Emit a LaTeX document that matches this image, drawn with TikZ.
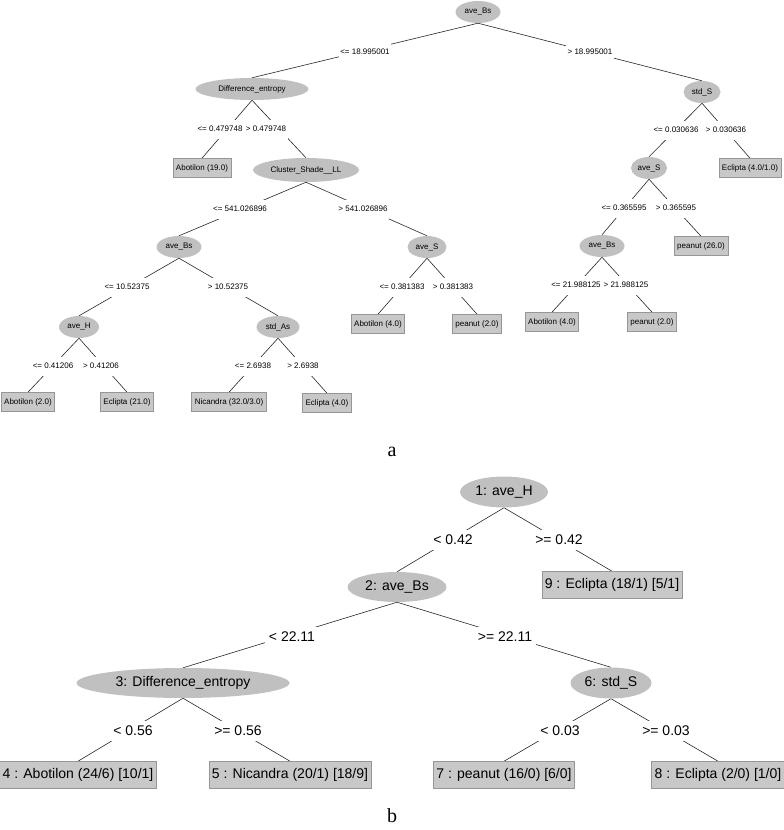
\documentclass[tikz,border=0pt]{standalone}
\usepackage{fontspec}
\setmainfont{Liberation Sans}
\newfontfamily\capfont{Liberation Serif}
\usetikzlibrary{shapes.geometric,backgrounds}
\definecolor{splitgray}{RGB}{192,192,192}
\definecolor{leafgray}{RGB}{200,200,200}
\definecolor{rimgray}{RGB}{150,150,150}
\begin{document}
\begin{tikzpicture}[x=1pt,y=-1pt,
        split/.style={ellipse,fill=splitgray,inner sep=0pt,minimum height=22pt,font=\fontsize{8}{9}\selectfont},
        leaf/.style={rectangle,fill=leafgray,draw=rimgray,line width=0.6pt,inner xsep=3pt,inner ysep=0pt,minimum height=19pt,font=\fontsize{8}{9}\selectfont},
        cond/.style={fill=white,inner xsep=1.5pt,inner ysep=0pt,minimum height=19pt,font=\fontsize{8}{9}\selectfont},
        bigsplit/.style={split,minimum height=31pt,font=\fontsize{14}{16}\selectfont},
        bigleaf/.style={leaf,minimum height=27pt,font=\fontsize{14}{16}\selectfont},
        bigcond/.style={cond,inner xsep=4pt,minimum height=20pt,font=\fontsize{14}{16}\selectfont},
        branch/.style={draw=black!85,line width=0.6pt},
        caption/.style={font=\capfont\fontsize{20}{22}\selectfont}]
        \useasboundingbox (0,0) rectangle (784,830);
        % tree a
        \node[split,minimum width=45pt] (r) at (478,12) {ave\_Bs};
        \node[split,minimum width=113pt] (de) at (252,89) {Difference\_entropy};
        \node[leaf] (ab19) at (202,168) {Abotilon (19.0)};
        \node[split,minimum width=106pt,minimum height=24pt] (cs) at (306,170) {Cluster\_Shade\_\_LL};
        \node[split,minimum width=45pt] (bs) at (179,247) {ave\_Bs};
        \node[split,minimum width=39pt] (s) at (427,247) {ave\_S};
        \node[split,minimum width=40pt] (h) at (79,327) {ave\_H};
        \node[split,minimum width=43pt] (sa) at (278,327) {std\_As};
        \node[leaf] (ab2) at (28,402) {Abotilon (2.0)};
        \node[leaf] (ec21) at (127,402) {Eclipta (21.0)};
        \node[leaf] (ni32) at (229,402) {Nicandra (32.0/3.0)};
        \node[leaf] (ec4) at (327,403) {Eclipta (4.0)};
        \node[leaf] (ab4) at (378,324) {Abotilon (4.0)};
        \node[leaf] (pe2) at (477,324) {peanut (2.0)};
        \node[split,minimum width=37pt] (ss) at (702,92) {std\_S};
        \node[split,minimum width=36pt] (s2) at (649,168) {ave\_S};
        \node[leaf] (ec41) at (750,168) {Eclipta (4.0/1.0)};
        \node[split,minimum width=45pt] (bs2) at (602,246) {ave\_Bs};
        \node[leaf] (pe26) at (701,246) {peanut (26.0)};
        \node[leaf] (ab4b) at (552,322) {Abotilon (4.0)};
        \node[leaf] (pe2b) at (652,322) {peanut (2.0)};
        \node[cond] (c1) at (365,52) {<= 18.995001};
        \node[cond] (c2) at (590,52) {> 18.995001};
        \node[cond] (c3) at (220,129) {<= 0.479748};
        \node[cond] (c4) at (266,129) {> 0.479748};
        \node[cond] (c5) at (240,209) {<= 541.026896};
        \node[cond] (c6) at (363,209) {> 541.026896};
        \node[cond] (c7) at (127,287) {<= 10.52375};
        \node[cond] (c8) at (228,287) {> 10.52375};
        \node[cond] (c9) at (402,287) {<= 0.381383};
        \node[cond] (c10) at (453,287) {> 0.381383};
        \node[cond] (c11) at (53,366) {<= 0.41206};
        \node[cond] (c12) at (101,366) {> 0.41206};
        \node[cond] (c13) at (253,366) {<= 2.6938};
        \node[cond] (c14) at (303,366) {> 2.6938};
        \node[cond] (c15) at (676,130) {<= 0.030636};
        \node[cond] (c16) at (726,130) {> 0.030636};
        \node[cond] (c17) at (624,208) {<= 0.365595};
        \node[cond] (c18) at (676,208) {> 0.365595};
        \node[cond,inner xsep=0pt] (c19) at (576,285) {<= 21.988125};
        \node[cond,inner xsep=0pt] (c20) at (626,285) {> 21.988125};
        \node[caption] (capa) at (392,452) {a};
        % tree b
        \node[bigsplit,minimum width=88pt] (n1) at (504,492) {1: ave\_H};
        \node[bigsplit,minimum width=99pt,minimum height=30pt] (n2) at (397,587) {2: ave\_Bs};
        \node[bigleaf] (n9) at (612,585) {9 : Eclipta (18/1) [5/1]};
        \node[bigsplit,minimum width=213pt,minimum height=30pt] (n3) at (183,683) {3: Difference\_entropy};
        \node[bigsplit,minimum width=81pt] (n6) at (611,683) {6: std\_S};
        \node[bigleaf] (n4) at (78,775) {4 : Abotilon (24/6) [10/1]};
        \node[bigleaf] (n5) at (290,775) {5 : Nicandra (20/1) [18/9]};
        \node[bigleaf] (n7) at (504,775) {7 : peanut (16/0) [6/0]};
        \node[bigleaf] (n8) at (718,775) {8 : Eclipta (2/0) [1/0]};
        \node[bigcond] (k1) at (453,540) {< 0.42};
        \node[bigcond] (k2) at (559,540) {>= 0.42};
        \node[bigcond] (k3) at (292,637) {< 22.11};
        \node[bigcond] (k4) at (505,637) {>= 22.11};
        \node[bigcond] (k5) at (133,731) {< 0.56};
        \node[bigcond] (k6) at (238,731) {>= 0.56};
        \node[bigcond] (k7) at (560,731) {< 0.03};
        \node[bigcond] (k8) at (666,731) {>= 0.03};
        \node[caption] (capb) at (392,816) {b};
        \begin{scope}[on background layer]
            \draw[branch] (r.south) -- (de.north);
            \draw[branch] (r.south) -- (ss.north);
            \draw[branch] (de.south) -- (ab19.north);
            \draw[branch] (de.south) -- (cs.north);
            \draw[branch] (cs.south) -- (bs.north);
            \draw[branch] (cs.south) -- (s.north);
            \draw[branch] (bs.south) -- (h.north);
            \draw[branch] (bs.south) -- (sa.north);
            \draw[branch] (h.south) -- (ab2.north);
            \draw[branch] (h.south) -- (ec21.north);
            \draw[branch] (sa.south) -- (ni32.north);
            \draw[branch] (sa.south) -- (ec4.north);
            \draw[branch] (s.south) -- (ab4.north);
            \draw[branch] (s.south) -- (pe2.north);
            \draw[branch] (ss.south) -- (s2.north);
            \draw[branch] (ss.south) -- (ec41.north);
            \draw[branch] (s2.south) -- (bs2.north);
            \draw[branch] (s2.south) -- (pe26.north);
            \draw[branch] (bs2.south) -- (ab4b.north);
            \draw[branch] (bs2.south) -- (pe2b.north);
            \draw[branch] (n1.south) -- (n2.north);
            \draw[branch] (n1.south) -- (n9.north);
            \draw[branch] (n2.south) -- (n3.north);
            \draw[branch] (n2.south) -- (n6.north);
            \draw[branch] (n3.south) -- (n4.north);
            \draw[branch] (n3.south) -- (n5.north);
            \draw[branch] (n6.south) -- (n7.north);
            \draw[branch] (n6.south) -- (n8.north);
        \end{scope}
    \end{tikzpicture}
\end{document}
